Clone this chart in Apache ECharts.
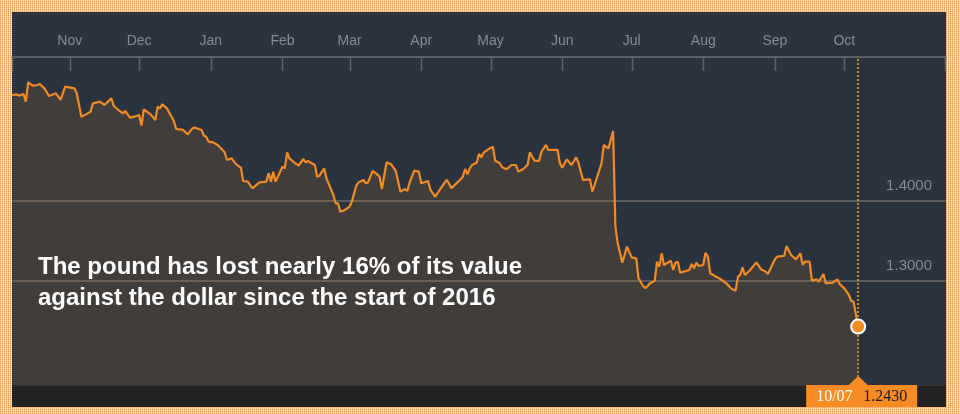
<!DOCTYPE html>
<html><head><meta charset="utf-8">
<script src="https://cdn.jsdelivr.net/npm/echarts@6/dist/echarts.min.js"></script>
<style>
html,body{margin:0;padding:0;width:960px;height:414px;overflow:hidden;}
body{background-color:#ffffff;background-image:linear-gradient(90deg, rgba(242,146,64,0.7) 50%, rgba(242,146,64,0) 50%),linear-gradient(0deg, rgba(242,146,64,0.5) 50%, rgba(242,146,64,0) 50%);background-size:2px 2px;}
#c{width:960px;height:414px;}
</style></head><body><div id="c"></div>
<script>
const dates = [
'2015-10-07','2015-10-09','2015-10-10','2015-10-12','2015-10-13','2015-10-14','2015-10-16','2015-10-18','2015-10-19','2015-10-21',
'2015-10-23','2015-10-26','2015-10-28','2015-10-30','2015-11-03','2015-11-04','2015-11-06','2015-11-08','2015-11-10','2015-11-11',
'2015-11-14','2015-11-16','2015-11-19','2015-11-20','2015-11-22','2015-11-24','2015-11-25','2015-11-27','2015-11-29','2015-12-01',
'2015-12-02','2015-12-03','2015-12-06','2015-12-08','2015-12-09','2015-12-10','2015-12-11','2015-12-13','2015-12-15','2015-12-16',
'2015-12-17','2015-12-20','2015-12-22','2015-12-24','2015-12-25','2015-12-28','2015-12-29','2015-12-30','2015-12-31','2016-01-02',
'2016-01-04','2016-01-07','2016-01-08','2016-01-10','2016-01-12','2016-01-14','2016-01-15','2016-01-17','2016-01-19','2016-01-22',
'2016-01-25','2016-01-26','2016-01-27','2016-01-28','2016-01-29','2016-02-01','2016-02-02','2016-02-03','2016-02-04','2016-02-06',
'2016-02-08','2016-02-10','2016-02-11','2016-02-12','2016-02-15','2016-02-16','2016-02-17','2016-02-19','2016-02-20','2016-02-23',
'2016-02-24','2016-02-25','2016-02-26','2016-02-28','2016-03-01','2016-03-02','2016-03-04','2016-03-05','2016-03-07','2016-03-08',
'2016-03-09','2016-03-11','2016-03-13','2016-03-14','2016-03-15','2016-03-17','2016-03-19','2016-03-21','2016-03-23','2016-03-25',
'2016-03-26','2016-03-27','2016-03-29','2016-03-31','2016-04-01','2016-04-04','2016-04-05','2016-04-07','2016-04-09','2016-04-12',
'2016-04-13','2016-04-14','2016-04-17','2016-04-19','2016-04-20','2016-04-21','2016-04-22','2016-04-23','2016-04-25','2016-04-26',
'2016-04-27','2016-04-28','2016-04-30','2016-05-02','2016-05-03','2016-05-05','2016-05-06','2016-05-08','2016-05-10','2016-05-12',
'2016-05-13','2016-05-15','2016-05-17','2016-05-18','2016-05-20','2016-05-22','2016-05-23','2016-05-25','2016-05-26','2016-05-28',
'2016-05-30','2016-05-31','2016-06-01','2016-06-03','2016-06-05','2016-06-07','2016-06-08','2016-06-10','2016-06-13','2016-06-14',
'2016-06-15','2016-06-18','2016-06-19','2016-06-21','2016-06-23','2016-06-24','2016-06-25','2016-06-27','2016-06-29','2016-07-01',
'2016-07-03','2016-07-04','2016-07-06','2016-07-07','2016-07-09','2016-07-11','2016-07-12','2016-07-13','2016-07-14','2016-07-15',
'2016-07-18','2016-07-19','2016-07-20','2016-07-21','2016-07-22','2016-07-26','2016-07-27','2016-07-28','2016-07-29','2016-07-30',
'2016-08-01','2016-08-02','2016-08-03','2016-08-04','2016-08-06','2016-08-08','2016-08-11','2016-08-13','2016-08-15','2016-08-16',
'2016-08-17','2016-08-18','2016-08-19','2016-08-21','2016-08-24','2016-08-26','2016-08-28','2016-08-29','2016-09-01','2016-09-02',
'2016-09-05','2016-09-06','2016-09-08','2016-09-10','2016-09-12','2016-09-13','2016-09-14','2016-09-16','2016-09-17','2016-09-19',
'2016-09-20','2016-09-22','2016-09-23','2016-09-26','2016-09-28','2016-09-29','2016-10-01','2016-10-03','2016-10-04','2016-10-05',
'2016-10-07'
];
const values = [
1.5325,1.5333,1.5317,1.5338,1.5242,1.5483,1.5442,1.5450,1.5463,1.5408,
1.5313,1.5346,1.5263,1.5429,1.5408,1.5346,1.5054,1.5083,1.5117,1.5221,
1.5242,1.5200,1.5283,1.5188,1.5138,1.5096,1.5125,1.5042,1.5054,1.5075,
1.4942,1.5146,1.5083,1.5013,1.5179,1.5158,1.5208,1.5158,1.5054,1.5000,
1.4900,1.4888,1.4833,1.4908,1.4917,1.4888,1.4817,1.4804,1.4742,1.4733,
1.4700,1.4608,1.4513,1.4533,1.4458,1.4417,1.4250,1.4242,1.4158,1.4233,
1.4242,1.4346,1.4242,1.4367,1.4242,1.4429,1.4408,1.4608,1.4533,1.4483,
1.4442,1.4525,1.4483,1.4500,1.4450,1.4304,1.4317,1.4408,1.4283,1.4075,
1.3971,1.3971,1.3867,1.3888,1.3929,1.3992,1.4200,1.4233,1.4263,1.4221,
1.4233,1.4375,1.4333,1.4304,1.4150,1.4483,1.4458,1.4375,1.4117,1.4150,
1.4125,1.4233,1.4379,1.4367,1.4221,1.4250,1.4138,1.4054,1.4138,1.4263,
1.4221,1.4158,1.4242,1.4304,1.4400,1.4333,1.4408,1.4450,1.4479,1.4588,
1.4546,1.4604,1.4646,1.4679,1.4504,1.4471,1.4421,1.4396,1.4450,1.4450,
1.4367,1.4396,1.4450,1.4608,1.4504,1.4500,1.4617,1.4700,1.4638,1.4638,
1.4638,1.4471,1.4417,1.4521,1.4450,1.4546,1.4479,1.4263,1.4271,1.4117,
1.4200,1.4471,1.4700,1.4658,1.4875,1.3679,1.3471,1.3229,1.3429,1.3296,
1.3283,1.3033,1.2938,1.2908,1.2971,1.3000,1.3242,1.3179,1.3346,1.3200,
1.3254,1.3138,1.3229,1.3242,1.3104,1.3138,1.3213,1.3158,1.3229,1.3188,
1.3200,1.3354,1.3304,1.3096,1.3063,1.3033,1.2971,1.2908,1.2879,1.3054,
1.3075,1.3171,1.3075,1.3129,1.3233,1.3146,1.3117,1.3088,1.3271,1.3304,
1.3313,1.3438,1.3325,1.3271,1.3346,1.3200,1.3242,1.3242,1.3004,1.3021,
1.2992,1.3088,1.2971,1.2979,1.3021,1.2963,1.2908,1.2825,1.2750,1.2742,
1.2430
];
const monthTicks = ['2015-11-01','2015-12-01','2016-01-01','2016-02-01','2016-03-01','2016-04-01',
  '2016-05-01','2016-06-01','2016-07-01','2016-08-01','2016-09-01','2016-10-01'];
const monthNames = ['Jan','Feb','Mar','Apr','May','Jun','Jul','Aug','Sep','Oct','Nov','Dec'];
const yTickValues = [1.3, 1.4];
const yMin = 1.17, yMax = 1.58;
const xMin = '2015-10-07', xMax = '2016-11-14';
const annotationLines = ['The pound has lost nearly 16% of its value', 'against the dollar since the start of 2016'];

const toTime = s => { const a = s.split('-'); return new Date(+a[0], +a[1] - 1, +a[2]).getTime(); };
const chart = echarts.init(document.getElementById('c'), null, {renderer: 'canvas'});
const seriesData = dates.map((d, i) => [toTime(d), values[i]]);
const last = seriesData.length - 1;
const lastTime = seriesData[last][0];

const option = {
  backgroundColor: 'transparent',
  animation: false,
  grid: {left: 12, right: 14, top: 57, bottom: 29, containLabel: false},
  xAxis: {
    type: 'time', position: 'top', min: toTime(xMin), max: toTime(xMax),
    minInterval: 28 * 86400000, maxInterval: 31 * 86400000,
    axisLine: {show: true, lineStyle: {color: '#6b7076', width: 1.5}},
    axisTick: {show: false},
    axisLabel: {formatter: v => (v > lastTime ? '' : monthNames[new Date(v).getMonth()]),
      color: '#868b92', fontSize: 14, fontFamily: '"Liberation Sans", Arial, sans-serif', margin: 9,
      showMinLabel: false, showMaxLabel: false},
    splitLine: {show: false}
  },
  yAxis: {
    type: 'value', position: 'right', min: yMin, max: yMax, scale: true,
    axisLine: {show: false},
    axisTick: {show: false, customValues: yTickValues},
    axisLabel: {customValues: yTickValues, inside: true, margin: 14, align: 'right', verticalAlign: 'bottom', padding: [0, 0, 8, 0],
      color: '#868b92', fontSize: 15, fontFamily: '"Liberation Sans", Arial, sans-serif',
      formatter: v => v.toFixed(4)},
    splitLine: {show: true, lineStyle: {color: '#6a6a6a', width: 1.5}}
  },
  series: [{
    type: 'line', data: seriesData, showSymbol: false, symbol: 'none',
    lineStyle: {color: '#f08a24', width: 2.2},
    areaStyle: {color: 'rgba(240,138,36,0.17)', origin: 'start'},
    markLine: {
      silent: true, symbol: ['none', 'none'], label: {show: false},
      lineStyle: {color: '#c08a25', type: [2, 2], width: 2},
      data: [{xAxis: lastTime}]
    },
    markPoint: {
      silent: true, symbol: 'circle', symbolSize: 14,
      itemStyle: {color: '#f68b24', borderColor: '#ffffff', borderWidth: 2},
      label: {show: false},
      data: [{coord: seriesData[last]}]
    },
    z: 3
  }],
  graphic: []
};
chart.setOption(option);

const p = chart.convertToPixel({gridIndex: 0}, seriesData[last]);
const pb = chart.convertToPixel({gridIndex: 0}, [lastTime, yMin]);
const pt = chart.convertToPixel({gridIndex: 0}, [lastTime, yMax]);
const d = dates[last].split('-');
const dateLabel = d[1] + '/' + d[2];
const valueLabel = values[last].toFixed(4);

// axis ticks at month starts and at both ends of the axis
const tickTimes = [toTime(xMin)].concat(monthTicks.map(toTime), [toTime(xMax)]);
const tickEls = tickTimes.map(t => {
  const x = Math.min(Math.max(Math.round(chart.convertToPixel({xAxisIndex: 0}, t)) + 0.5, 12.5), 945.5);
  return {type: 'line', z: 4, silent: true, shape: {x1: x, y1: pt[1], x2: x, y2: pt[1] + 14},
    style: {stroke: '#5c6167', lineWidth: 1.5}};
});

chart.setOption({
  graphic: [
    {type: 'rect', z: -10, silent: true, shape: {x: 12, y: 12, width: 934, height: 395}, style: {fill: '#2a333e'}},
    {type: 'rect', z: 5, silent: true, shape: {x: 12, y: pb[1], width: 934, height: 407 - pb[1]}, style: {fill: '#222222'}},
    {type: 'rect', z: 5, silent: true, shape: {x: 12, y: pb[1], width: 934, height: 1}, style: {fill: '#363636'}},
    {type: 'polygon', z: 20, silent: true, shape: {points: [
      [p[0] - 52, pb[1]], [p[0] - 9.5, pb[1]], [p[0], pb[1] - 9], [p[0] + 9.5, pb[1]], [p[0] + 59, pb[1]],
      [p[0] + 59, 407], [p[0] - 52, 407]]}, style: {fill: '#f68b24'}},
    {type: 'text', z: 21, silent: true, x: p[0] - 42, y: (pb[1] + 407) / 2 + 1,
      style: {text: dateLabel, fill: '#ffffff', font: '16px "Liberation Serif", "Times New Roman", serif', verticalAlign: 'middle', align: 'left'}},
    {type: 'text', z: 21, silent: true, x: p[0] + 5, y: (pb[1] + 407) / 2 + 1,
      style: {text: valueLabel, fill: '#1a1a1a', font: '16px "Liberation Serif", "Times New Roman", serif', verticalAlign: 'middle', align: 'left'}},
    {type: 'text', z: 21, silent: true, x: 38, y: 267,
      style: {text: annotationLines[0], fill: '#ffffff', font: 'bold 24px "Liberation Sans", Arial, sans-serif', verticalAlign: 'middle', align: 'left'}},
    {type: 'text', z: 21, silent: true, x: 38, y: 298,
      style: {text: annotationLines[1], fill: '#ffffff', font: 'bold 24px "Liberation Sans", Arial, sans-serif', verticalAlign: 'middle', align: 'left'}}
  ].concat(tickEls)
});
</script></body></html>
